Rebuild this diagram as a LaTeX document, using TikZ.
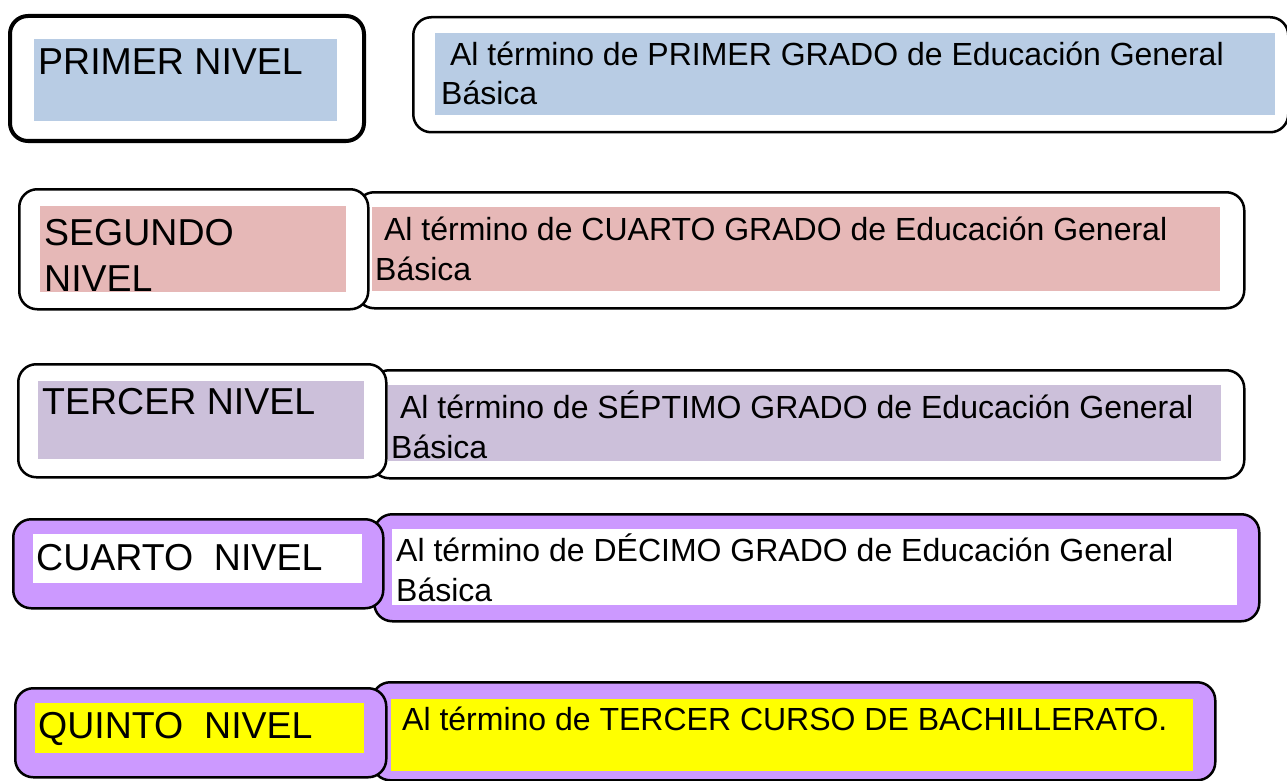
\documentclass[tikz,border=0pt]{standalone}
\usepackage{fontspec}
\setmainfont{Liberation Sans}
\definecolor{azulnivel}{HTML}{B8CCE4}
\definecolor{rosanivel}{HTML}{E6B8B7}
\definecolor{lilanivel}{HTML}{CCC0DA}
\definecolor{moradonivel}{HTML}{CC99FF}
\definecolor{amarillonivel}{HTML}{FFFF00}
\tikzset{
		caja/.style={draw, rounded corners=18pt, line width=2.5pt, fill=white, inner sep=0pt, anchor=north west},
		cajagruesa/.style={caja, line width=4pt},
		cajamorada/.style={caja, fill=moradonivel},
		fondo/.style={inner sep=0pt, anchor=north west},
		nivel/.style={inner sep=0pt, anchor=base west, align=left, font=\fontsize{37.5}{46}\selectfont},
		descrip/.style={inner sep=0pt, anchor=base west, align=left, font=\fontsize{32}{39.5}\selectfont}
	}
\begin{document}
\begin{tikzpicture}[x=1pt, y=-1pt]
		\useasboundingbox (0,0) rectangle (1287,781);
		% primer nivel
		\node[cajagruesa, minimum width=354, minimum height=125](cajauno) at (8,14){};
		\node[fondo, fill=azulnivel, minimum width=303, minimum height=82](fondouno) at (34,39){};
		\node[nivel](niveluno) at (38,75){PRIMER NIVEL};
		\node[caja, minimum width=875, minimum height=115](cajadesuno) at (412,16){};
		\node[fondo, fill=azulnivel, minimum width=840, minimum height=82](fondodesuno) at (435,33){};
		\node[descrip](desuno) at (441,105){\ Al término de PRIMER GRADO de Educación General\\Básica};
		% segundo nivel
		\node[caja, minimum width=888, minimum height=116](cajadesdos) at (355,191){};
		\node[fondo, fill=rosanivel, minimum width=848, minimum height=84](fondodesdos) at (372,207){};
		\node[descrip](desdos) at (375,280){\ Al término de CUARTO GRADO de Educación General\\Básica};
		\node[caja, minimum width=349, minimum height=120](cajados) at (18,188){};
		\node[fondo, fill=rosanivel, minimum width=306, minimum height=86](fondodos) at (40,206){};
		\node[nivel](niveldos) at (44,291){SEGUNDO\\NIVEL};
		% tercer nivel
		\node[caja, minimum width=873, minimum height=108](cajadestres) at (370,369){};
		\node[fondo, fill=lilanivel, minimum width=833, minimum height=76](fondodestres) at (388,385){};
		\node[descrip](destres) at (391,458){\ Al término de SÉPTIMO GRADO de Educación General\\Básica};
		\node[caja, minimum width=368, minimum height=113](cajatres) at (17,363){};
		\node[fondo, fill=lilanivel, minimum width=326, minimum height=78](fondotres) at (38,381){};
		\node[nivel](niveltres) at (42,414){TERCER NIVEL};
		% cuarto nivel
		\node[cajamorada, minimum width=885, minimum height=107](cajadescuatro) at (373,513){};
		\node[fondo, fill=white, minimum width=845, minimum height=76](fondodescuatro) at (392,529){};
		\node[descrip](descuatro) at (396,601){Al término de DÉCIMO GRADO de Educación General\\Básica};
		\node[cajamorada, minimum width=370, minimum height=89](cajacuatro) at (12,518){};
		\node[fondo, fill=white, minimum width=329, minimum height=49](fondocuatro) at (33,534){};
		\node[nivel](nivelcuatro) at (36,570){CUARTO~ NIVEL};
		% quinto nivel
		\node[cajamorada, minimum width=843, minimum height=98](cajadescinco) at (371,681){};
		\node[fondo, fill=amarillonivel, minimum width=802, minimum height=72](fondodescinco) at (391,699){};
		\node[descrip](descinco) at (402,730){Al término de TERCER CURSO DE BACHILLERATO.};
		\node[cajamorada, minimum width=371, minimum height=89](cajacinco) at (14,687){};
		\node[fondo, fill=amarillonivel, minimum width=329, minimum height=50](fondocinco) at (35,703){};
		\node[nivel](nivelcinco) at (38,738){QUINTO~ NIVEL};
	\end{tikzpicture}
\end{document}
